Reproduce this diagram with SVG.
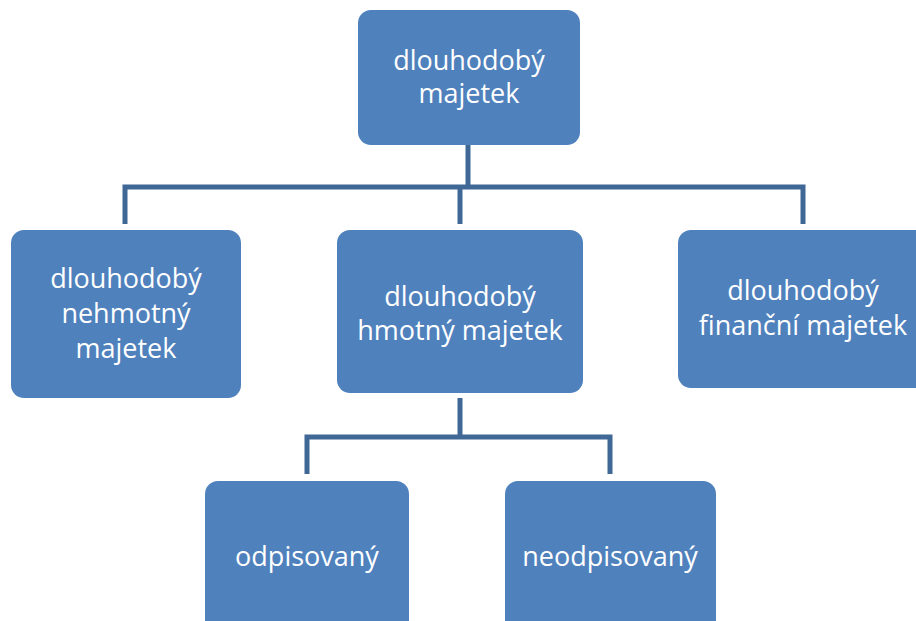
<svg xmlns="http://www.w3.org/2000/svg" width="916" height="621" viewBox="0 0 916 621">
<style>
.box{fill:#4F81BD;}
.t{font-family:"Open Sans","Liberation Sans",sans-serif;font-size:27px;fill:#FFFFFF;text-anchor:middle;}
.c{fill:none;stroke:#3F6896;stroke-width:5;}
</style>
<rect width="916" height="621" fill="#FFFFFF"/>
<g id="connectors">
<path class="c" d="M468,145 V187"/>
<path class="c" d="M125,224 V187 H803 V224"/>
<path class="c" d="M460,187 V224"/>
<path class="c" d="M460,398 V437"/>
<path class="c" d="M307,474 V437 H610 V474"/>
</g>
<g id="n-root">
<rect class="box" x="358" y="10" width="222" height="135" rx="13"/>
<text class="t" x="469" y="70">dlouhodobý</text>
<text class="t" x="469" y="103">majetek</text>
</g>
<g id="n-nehmotny">
<rect class="box" x="11" y="230" width="230" height="168" rx="13"/>
<text class="t" x="126" y="288">dlouhodobý</text>
<text class="t" x="126" y="323">nehmotný</text>
<text class="t" x="126" y="358">majetek</text>
</g>
<g id="n-hmotny">
<rect class="box" x="337" y="230" width="246" height="163" rx="13"/>
<text class="t" x="460" y="306">dlouhodobý</text>
<text class="t" x="460" y="340">hmotný majetek</text>
</g>
<g id="n-financni">
<rect class="box" x="678" y="230" width="250" height="158" rx="13"/>
<text class="t" x="803" y="300">dlouhodobý</text>
<text class="t" x="803" y="335">finanční majetek</text>
</g>
<g id="n-odpisovany">
<rect class="box" x="205" y="481" width="204" height="160" rx="13"/>
<text class="t" x="307" y="566">odpisovaný</text>
</g>
<g id="n-neodpisovany">
<rect class="box" x="505" y="481" width="211" height="160" rx="13"/>
<text class="t" x="610" y="566">neodpisovaný</text>
</g>
</svg>
